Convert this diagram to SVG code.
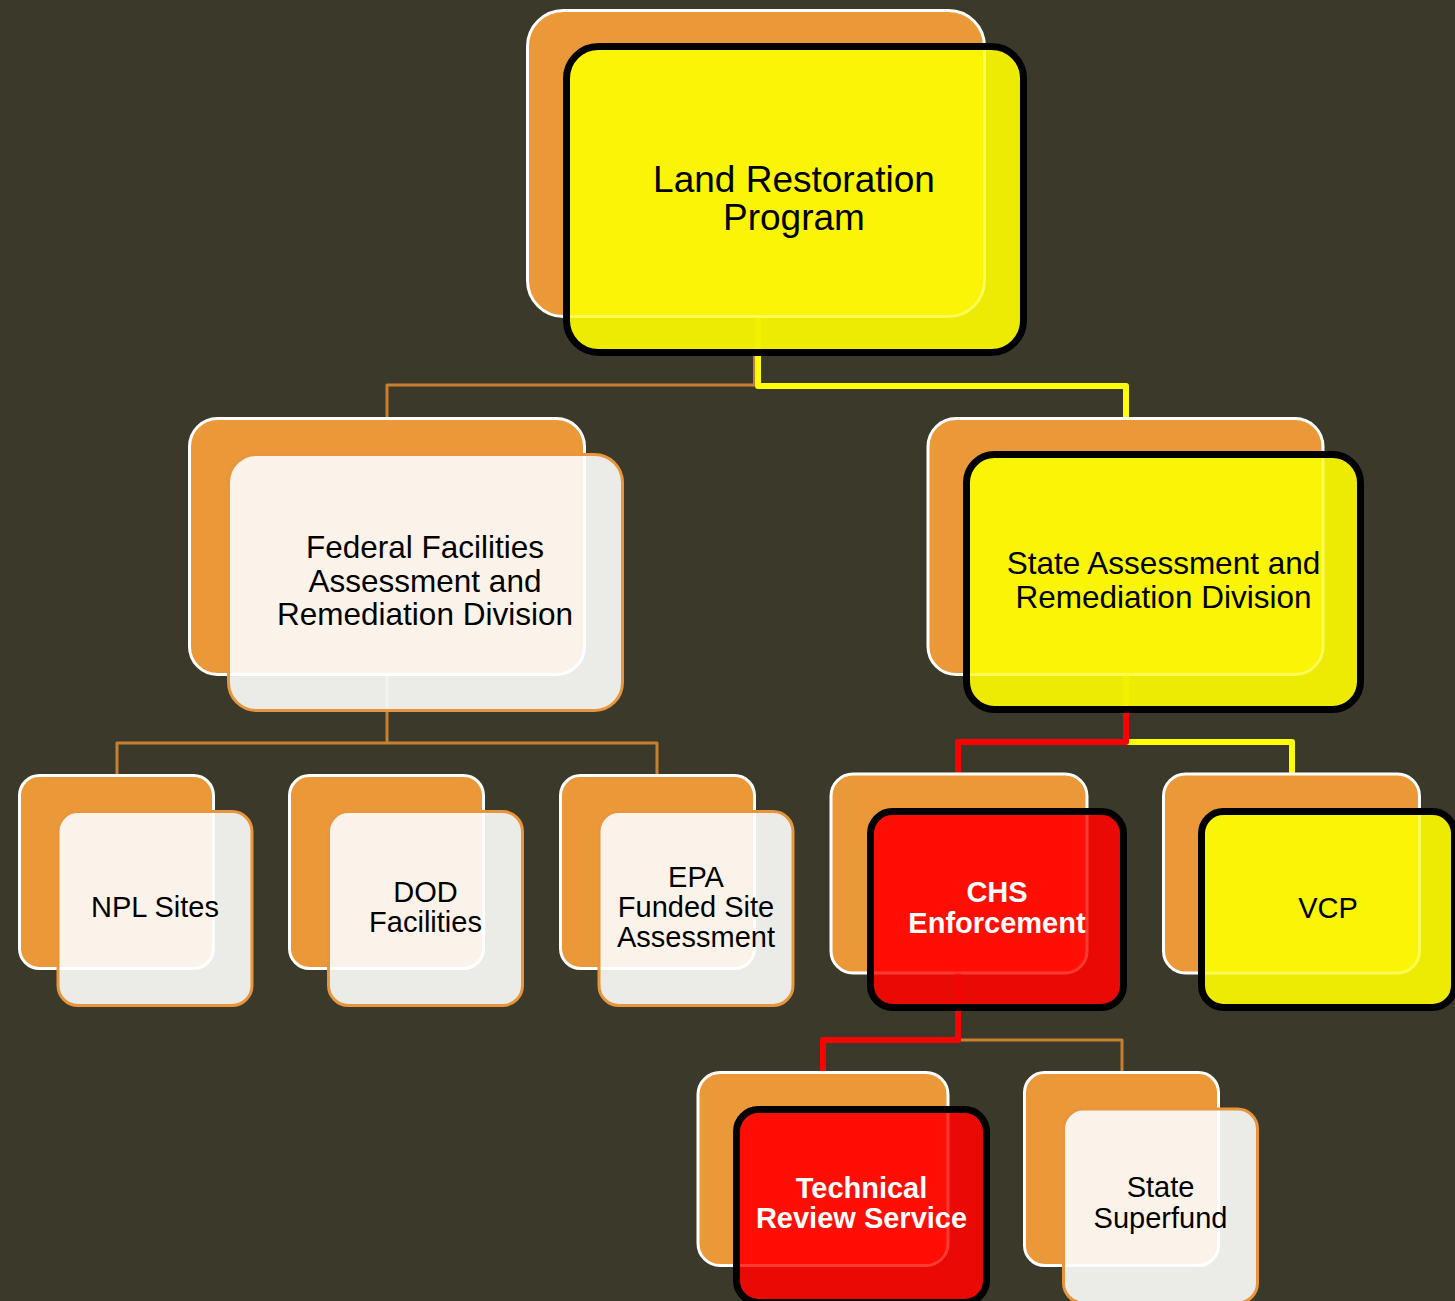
<svg xmlns="http://www.w3.org/2000/svg" width="1455" height="1301" viewBox="0 0 1455 1301">
<defs>
<style>
.back{fill:#EA9838;stroke:#FFFFFF;stroke-width:3}
.fc{fill:#EBEBE8}
.oc{fill:#FBF3EA;stroke:#FFFFFF;stroke-width:3}
.fy{fill:#EDEA04}
.oy{fill:#FAF506;stroke:#FCFA55;stroke-width:3}
.fr{fill:#E90A05}
.or{fill:#FF0E05;stroke:#FF3A33;stroke-width:3}
.sk{fill:none;stroke:#000000;stroke-width:7}
.so{fill:none;stroke:#E9953B;stroke-width:3}
.t{font-family:"Liberation Sans",Arial,sans-serif;text-anchor:middle;fill:#000000}
.tb{font-family:"Liberation Sans",Arial,sans-serif;text-anchor:middle;fill:#FFFFFF;font-weight:bold;font-size:29px}
.c{fill:none;stroke-linejoin:round;stroke-linecap:butt}
.co{stroke:#C97F30;stroke-width:3}
.cy{stroke:#FFFF00;stroke-width:6}
.cr{stroke:#FF0000;stroke-width:6}
</style>
<clipPath id="c-top"><rect x="566.5" y="46.5" width="457" height="306" rx="32"/></clipPath>
<clipPath id="c-fed"><rect x="228.5" y="454.5" width="394" height="256" rx="28"/></clipPath>
<clipPath id="c-state"><rect x="966.5" y="454.5" width="394" height="255" rx="28"/></clipPath>
<clipPath id="c-npl"><rect x="58" y="811.5" width="194" height="194" rx="20"/></clipPath>
<clipPath id="c-dod"><rect x="328.5" y="811.5" width="194" height="194" rx="20"/></clipPath>
<clipPath id="c-epa"><rect x="599" y="811.5" width="194" height="194" rx="20"/></clipPath>
<clipPath id="c-chs"><rect x="870.5" y="811.5" width="253" height="196" rx="22"/></clipPath>
<clipPath id="c-vcp"><rect x="1201.5" y="811.5" width="253" height="196" rx="22"/></clipPath>
<clipPath id="c-trs"><rect x="736.5" y="1109.5" width="250" height="193" rx="22"/></clipPath>
<clipPath id="c-ss"><rect x="1063.5" y="1109" width="194" height="194" rx="20"/></clipPath>
</defs>
<rect x="0" y="0" width="1455" height="1301" fill="#3B3A2A"/>

<g id="connectors">
<path class="c co" d="M754.5,353 V385 H387 V418"/>
<path class="c cy" d="M758,353 V386 H1126 V418"/>
<path class="c co" d="M387,710 V743 M117,775 V743 H657 V775"/>
<path class="c cy" d="M1126,742 H1292 V774"/>
<path class="c cr" d="M1126,710 V742 H958 V774"/>
<path class="c co" d="M958,1040 H1122 V1072"/>
<path class="c cr" d="M958,1008 V1040 H823 V1072"/>
</g>

<g id="n-top">
<rect class="back" x="527.5" y="10.5" width="457" height="306" rx="36"/>
<rect class="fy" x="566.5" y="46.5" width="457" height="306" rx="32"/>
<rect class="oy" clip-path="url(#c-top)" x="527.5" y="10.5" width="457" height="306" rx="36"/>
<rect class="sk" x="566.5" y="46.5" width="457" height="306" rx="32"/>
<text class="t" font-size="37" x="794" y="192">Land Restoration</text>
<text class="t" font-size="37" x="794" y="230">Program</text>
</g>

<g id="n-federal">
<rect class="back" x="189.5" y="418.5" width="395" height="256" rx="28"/>
<rect class="fc" x="228.5" y="454.5" width="394" height="256" rx="28"/>
<rect class="oc" clip-path="url(#c-fed)" x="189.5" y="418.5" width="395" height="256" rx="28"/>
<rect class="so" x="228.5" y="454.5" width="394" height="256" rx="28"/>
<text class="t" font-size="31.5" x="425" y="558">Federal Facilities</text>
<text class="t" font-size="31.5" x="425" y="592">Assessment and</text>
<text class="t" font-size="31.5" x="425" y="625">Remediation Division</text>
</g>

<g id="n-state">
<rect class="back" x="928" y="418.5" width="395" height="256" rx="28"/>
<rect class="fy" x="966.5" y="454.5" width="394" height="255" rx="28"/>
<rect class="oy" clip-path="url(#c-state)" x="928" y="418.5" width="395" height="256" rx="28"/>
<rect class="sk" x="966.5" y="454.5" width="394" height="255" rx="28"/>
<text class="t" font-size="31.5" x="1163.5" y="574">State Assessment and</text>
<text class="t" font-size="31.5" x="1163.5" y="608">Remediation Division</text>
</g>

<g id="n-npl">
<rect class="back" x="19.5" y="775.5" width="194" height="193" rx="20"/>
<rect class="fc" x="58" y="811.5" width="194" height="194" rx="20"/>
<rect class="oc" clip-path="url(#c-npl)" x="19.5" y="775.5" width="194" height="193" rx="20"/>
<rect class="so" x="58" y="811.5" width="194" height="194" rx="20"/>
<text class="t" font-size="29" x="155" y="917">NPL Sites</text>
</g>

<g id="n-dod">
<rect class="back" x="289.5" y="775.5" width="194" height="193" rx="20"/>
<rect class="fc" x="328.5" y="811.5" width="194" height="194" rx="20"/>
<rect class="oc" clip-path="url(#c-dod)" x="289.5" y="775.5" width="194" height="193" rx="20"/>
<rect class="so" x="328.5" y="811.5" width="194" height="194" rx="20"/>
<text class="t" font-size="29" x="425.5" y="902">DOD</text>
<text class="t" font-size="29" x="425.5" y="932">Facilities</text>
</g>

<g id="n-epa">
<rect class="back" x="560.5" y="775.5" width="194" height="193" rx="20"/>
<rect class="fc" x="599" y="811.5" width="194" height="194" rx="20"/>
<rect class="oc" clip-path="url(#c-epa)" x="560.5" y="775.5" width="194" height="193" rx="20"/>
<rect class="so" x="599" y="811.5" width="194" height="194" rx="20"/>
<text class="t" font-size="29" x="696" y="887">EPA</text>
<text class="t" font-size="29" x="696" y="917">Funded Site</text>
<text class="t" font-size="29" x="696" y="947">Assessment</text>
</g>

<g id="n-chs">
<rect class="back" x="831" y="774" width="256" height="199" rx="22"/>
<rect class="fr" x="870.5" y="811.5" width="253" height="196" rx="22"/>
<rect class="or" clip-path="url(#c-chs)" x="831" y="774" width="256" height="199" rx="22"/>
<rect class="sk" x="870.5" y="811.5" width="253" height="196" rx="22"/>
<text class="tb" x="997" y="902">CHS</text>
<text class="tb" x="997" y="933">Enforcement</text>
</g>

<g id="n-vcp">
<rect class="back" x="1163.5" y="774" width="256" height="199" rx="22"/>
<rect class="fy" x="1201.5" y="811.5" width="253" height="196" rx="22"/>
<rect class="oy" clip-path="url(#c-vcp)" x="1163.5" y="774" width="256" height="199" rx="22"/>
<rect class="sk" x="1201.5" y="811.5" width="253" height="196" rx="22"/>
<text class="t" font-size="29" x="1328" y="918">VCP</text>
</g>

<g id="n-trs">
<rect class="back" x="698" y="1072.5" width="250" height="193" rx="22"/>
<rect class="fr" x="736.5" y="1109.5" width="250" height="193" rx="22"/>
<rect class="or" clip-path="url(#c-trs)" x="698" y="1072.5" width="250" height="193" rx="22"/>
<rect class="sk" x="736.5" y="1109.5" width="250" height="193" rx="22"/>
<text class="tb" x="861.5" y="1198">Technical</text>
<text class="tb" x="861.5" y="1228">Review Service</text>
</g>

<g id="n-superfund">
<rect class="back" x="1024.5" y="1072.5" width="194" height="193" rx="20"/>
<rect class="fc" x="1063.5" y="1109" width="194" height="194" rx="20"/>
<rect class="oc" clip-path="url(#c-ss)" x="1024.5" y="1072.5" width="194" height="193" rx="20"/>
<rect class="so" x="1063.5" y="1109" width="194" height="194" rx="20"/>
<text class="t" font-size="29" x="1160.5" y="1197">State</text>
<text class="t" font-size="29" x="1160.5" y="1228">Superfund</text>
</g>

<g id="connector-traces" opacity="0.35">
<path class="c cy" d="M758,317 V349"/>
<path class="c" stroke="#FFFFFF" stroke-width="3" d="M387,674 V708"/>
<path class="c cy" d="M1126,674 V706"/>
<path class="c cr" d="M958,973 V1004"/>
</g>
</svg>
